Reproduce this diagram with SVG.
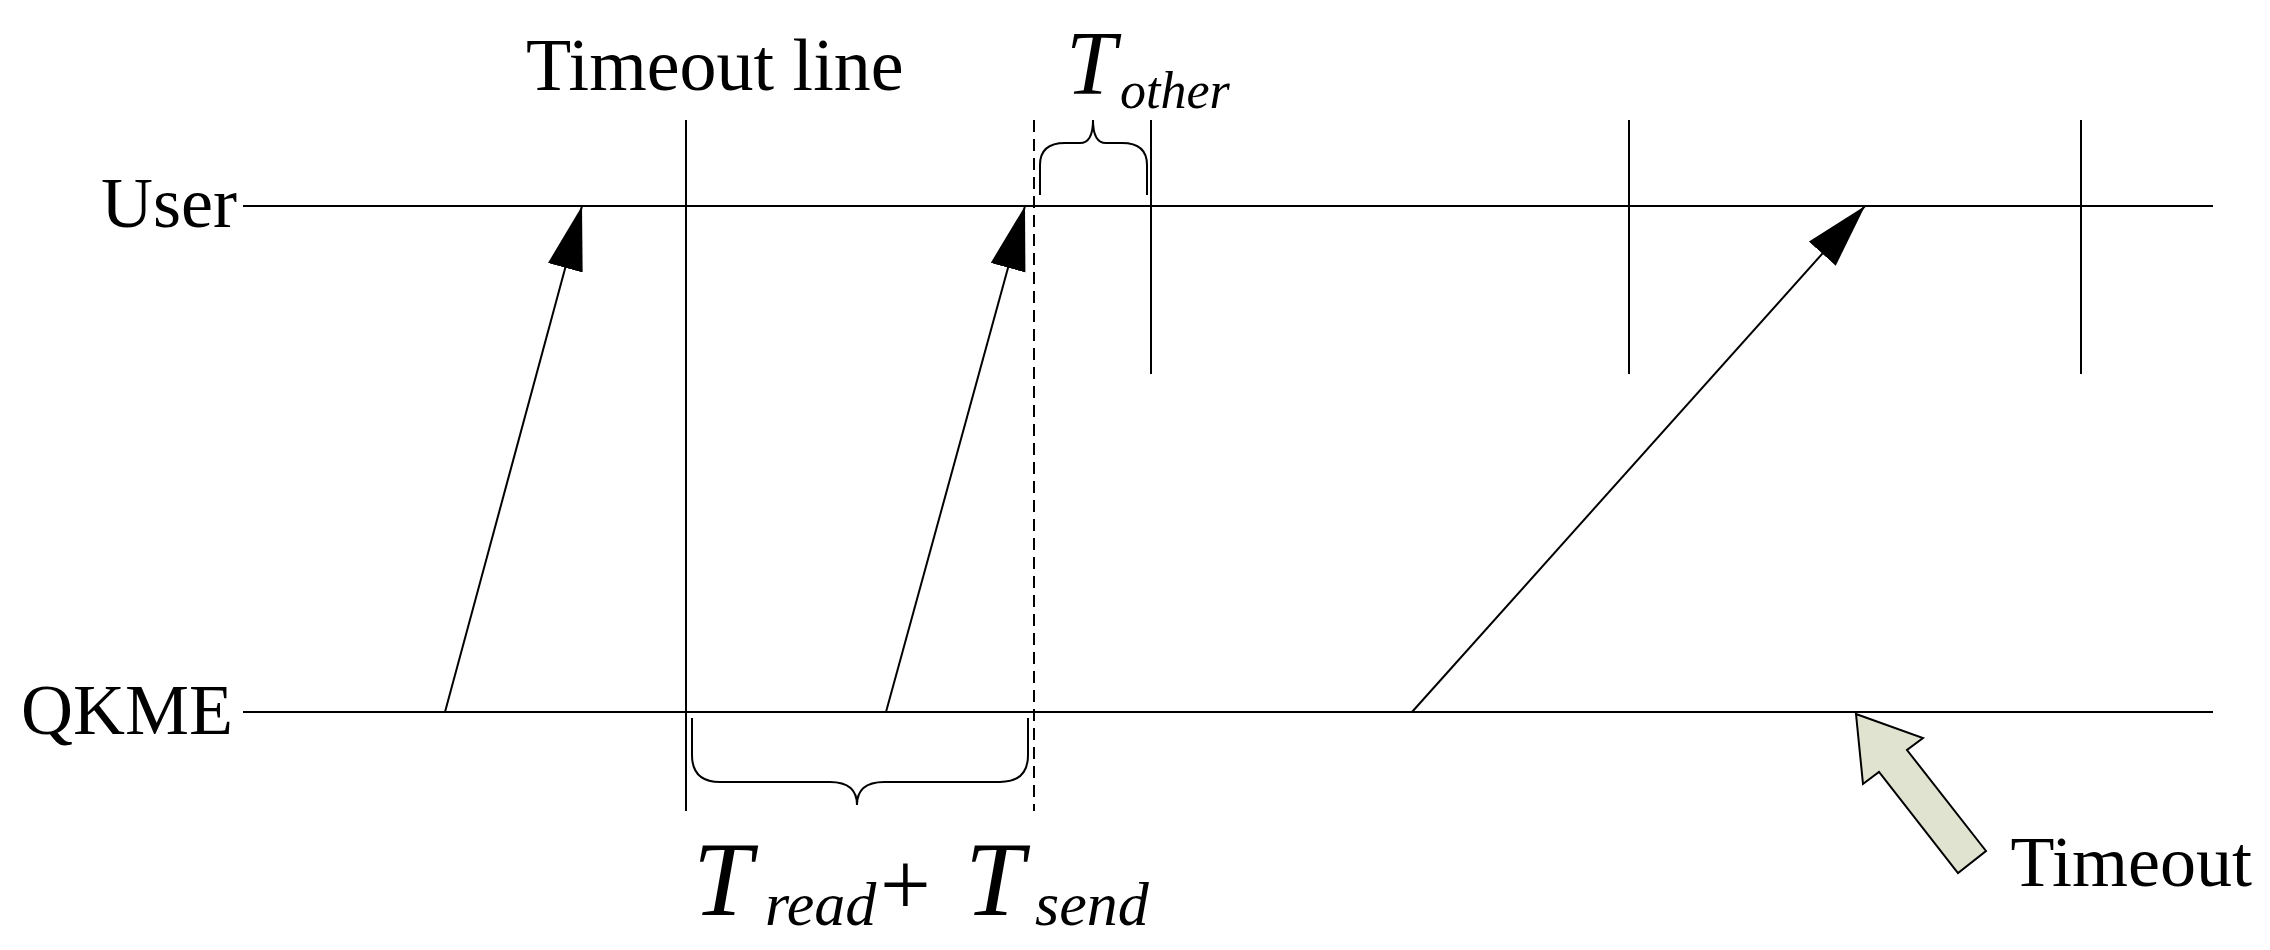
<svg xmlns="http://www.w3.org/2000/svg" width="2270" height="950" viewBox="0 0 2270 950">
<style>
.l{stroke:#000;stroke-width:2;fill:none}
.t{font-family:"Liberation Serif",serif;fill:#000}
.i{font-family:"Liberation Serif",serif;font-style:italic;fill:#000}
</style>
<defs>
<marker id="ah" markerUnits="userSpaceOnUse" markerWidth="70" markerHeight="40" refX="64" refY="18" orient="auto"><path d="M0,0 L64,18 L0,36 Z" fill="#000"/></marker>
</defs>
<rect width="2270" height="950" fill="#fff"/>
<g id="user"><line class="l" x1="243" y1="206" x2="2213" y2="206"/><text class="t" x="237" y="227" font-size="72" text-anchor="end">User</text></g>
<g id="qkme"><line class="l" x1="243" y1="712" x2="2213" y2="712"/><text class="t" x="233" y="734" font-size="72" text-anchor="end">QKME</text></g>
<g id="timeoutline"><line class="l" x1="686" y1="120" x2="686" y2="811"/><text class="t" x="526" y="90" font-size="74">Timeout line</text></g>
<g id="dashed"><line class="l" x1="1034" y1="120" x2="1034" y2="811" stroke-dasharray="12,7"/></g>
<g id="ticks">
<line class="l" x1="1151" y1="120" x2="1151" y2="374"/>
<line class="l" x1="1629" y1="120" x2="1629" y2="374"/>
<line class="l" x1="2081" y1="120" x2="2081" y2="374"/>
</g>
<g id="connectors">
<line class="l" x1="445" y1="712" x2="582" y2="206" marker-end="url(#ah)"/>
<line class="l" x1="886" y1="712" x2="1025" y2="206" marker-end="url(#ah)"/>
<line class="l" x1="1412" y1="712" x2="1865" y2="206" marker-end="url(#ah)"/>
</g>
<g id="brace-bottom"><path class="l" d="M692,718 V755 Q692,782 720,782 H830 Q857,782 857,805 Q857,782 884,782 H1000 Q1028,782 1028,755 V718"/>
<text class="i" x="693" y="915" font-size="106">T</text><text class="i" x="765" y="925" font-size="62">read</text>
<text class="t" x="880" y="915" font-size="90">+</text>
<text class="i" x="965" y="915" font-size="106">T</text><text class="i" x="1035" y="925" font-size="62">send</text></g>
<g id="brace-top"><path class="l" d="M1040,195 V165 Q1040,143 1065,143 H1080 Q1093,143 1093,120 Q1093,143 1106,143 H1122 Q1147,143 1147,165 V195"/>
<text class="i" x="1066" y="94" font-size="90">T</text><text class="i" x="1120" y="108" font-size="52">other</text></g>
<g id="timeout"><polygon points="1856,714 1923,738 1907,750 1986,851 1958,873 1879,772 1863,784" fill="#dfe3cf" stroke="#000" stroke-width="2"/>
<text class="t" x="2252" y="886" font-size="72" text-anchor="end">Timeout</text></g>
</svg>
